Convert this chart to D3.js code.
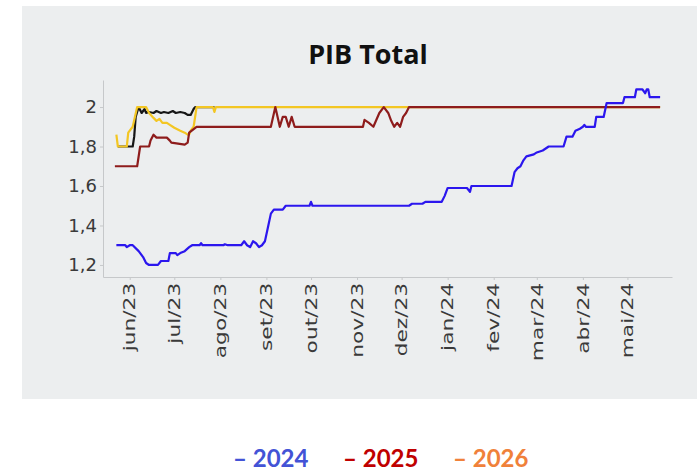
<!DOCTYPE html>
<html>
<head>
<meta charset="utf-8">
<script src="https://cdn.jsdelivr.net/npm/d3@7"></script>
<style>
  body { margin: 0; background: #fff; }
  svg { display: block; }
</style>
</head>
<body>
<svg id="chart"></svg>
<script>
// meses em portugues para os ticks
const meses = ["jan","fev","mar","abr","mai","jun","jul","ago","set","out","nov","dez"];
const yTicks = [1.2, 1.4, 1.6, 1.8, 2.0];

// PIB 2024
const datas2024 = ["2023-05-23","2023-05-29","2023-05-30","2023-06-01","2023-06-03","2023-06-07","2023-06-10","2023-06-12","2023-06-14","2023-06-20",
  "2023-06-22","2023-06-27","2023-06-28","2023-07-02","2023-07-03","2023-07-05","2023-07-08","2023-07-11","2023-07-13","2023-07-18",
  "2023-07-19","2023-07-20","2023-08-03","2023-08-04","2023-08-06","2023-08-15","2023-08-17","2023-08-19","2023-08-21","2023-08-23",
  "2023-08-25","2023-08-27","2023-08-29","2023-08-31","2023-09-02","2023-09-04","2023-09-06","2023-09-12","2023-09-14","2023-09-30",
  "2023-10-01","2023-10-02","2023-12-06","2023-12-08","2023-12-15","2023-12-17","2023-12-28","2023-12-30","2024-01-01","2024-01-14",
  "2024-01-16","2024-01-17","2024-02-13","2024-02-15","2024-02-17","2024-02-19","2024-02-21","2024-02-23","2024-02-28","2024-03-01",
  "2024-03-05","2024-03-09","2024-03-19","2024-03-21","2024-03-25","2024-03-27","2024-03-30","2024-04-01","2024-04-02","2024-04-03",
  "2024-04-09","2024-04-10","2024-04-15","2024-04-17","2024-04-28","2024-04-29","2024-05-06","2024-05-07","2024-05-11","2024-05-13",
  "2024-05-14","2024-05-15","2024-05-16","2024-05-23"];
const pib2024 = [1.30,1.30,1.29,1.30,1.30,1.27,1.24,1.21,1.20,1.20,
  1.22,1.22,1.26,1.26,1.25,1.26,1.27,1.29,1.30,1.30,
  1.31,1.30,1.30,1.305,1.30,1.30,1.32,1.30,1.29,1.32,
  1.31,1.29,1.30,1.32,1.39,1.46,1.48,1.48,1.50,1.50,
  1.52,1.50,1.50,1.51,1.51,1.52,1.52,1.55,1.59,1.59,
  1.57,1.60,1.60,1.67,1.69,1.70,1.73,1.75,1.76,1.77,
  1.78,1.80,1.80,1.85,1.85,1.88,1.89,1.90,1.91,1.90,
  1.90,1.95,1.95,2.02,2.02,2.05,2.05,2.09,2.09,2.07,
  2.09,2.09,2.05,2.05];

// PIB 2025
const datas2025 = ["2023-05-22","2023-06-06","2023-06-08","2023-06-14","2023-06-15","2023-06-17","2023-06-19","2023-06-26","2023-06-28","2023-06-29",
  "2023-07-08","2023-07-10","2023-07-11","2023-07-16","2023-09-04","2023-09-07","2023-09-10","2023-09-12","2023-09-14","2023-09-16",
  "2023-09-18","2023-09-20","2023-11-05","2023-11-06","2023-11-09","2023-11-12","2023-11-16","2023-11-19","2023-11-22","2023-11-24",
  "2023-11-26","2023-11-28","2023-11-30","2023-12-02","2023-12-04","2023-12-06","2024-05-23"];
const pib2025 = [1.70,1.70,1.80,1.80,1.83,1.86,1.845,1.845,1.83,1.82,
  1.81,1.82,1.87,1.90,1.90,2.00,1.90,1.95,1.95,1.90,
  1.95,1.90,1.90,1.935,1.92,1.90,1.97,2.00,1.97,1.93,
  1.90,1.92,1.90,1.95,1.97,2.00,2.00];

// PIB 2026
const datas2026 = ["2023-05-23","2023-05-24","2023-05-30","2023-05-31","2023-06-03","2023-06-06","2023-06-12","2023-06-14","2023-06-17","2023-06-19",
  "2023-06-21","2023-06-23","2023-06-26","2023-06-28","2023-07-01","2023-07-05","2023-07-08","2023-07-10","2023-07-11","2023-07-12",
  "2023-07-14","2023-07-16","2023-07-27","2023-07-28","2023-07-29","2024-05-23"];
const pib2026 = [1.86,1.80,1.80,1.87,1.90,2.00,2.00,1.97,1.945,1.93,
  1.94,1.92,1.92,1.91,1.895,1.88,1.87,1.86,1.86,1.88,
  1.90,2.00,2.00,1.975,2.00,2.00];

// PIB 2027 (linha preta, sem legenda)
const datas2027 = ["2023-05-24","2023-06-03","2023-06-04","2023-06-05","2023-06-07","2023-06-09","2023-06-11","2023-06-12","2023-06-14","2023-06-17",
  "2023-06-19","2023-06-22","2023-06-24","2023-06-27","2023-06-30","2023-07-02","2023-07-05","2023-07-08","2023-07-10","2023-07-12",
  "2023-07-14","2023-07-15","2023-07-28"];
const pib2027 = [1.80,1.80,1.85,1.95,2.00,1.97,1.99,1.97,1.975,1.97,
  1.98,1.97,1.975,1.97,1.98,1.97,1.975,1.97,1.96,1.96,
  1.99,2.00,2.00];

const legendNames = ["2024", "2025", "2026"];
const legendColors = ["#4353d6", "#c00000", "#f0813a"];


class LineChart {

    constructor( config ) {
        this.config = {
            parent: config.parent,
            width: config.width || 697,
            height: config.height || 471
        }
        this.init();
    }

    init() {
        let self = this;
        const parse = d3.timeParse("%Y-%m-%d");
        const zip = (ds, vs) => ds.map((d, i) => ({ date: parse(d), v: vs[i] }));

        // ordem de desenho: preta embaixo, vermelha e azul por cima
        self.series = [
            { name: "2027", color: "#161616", values: zip(datas2027, pib2027) },
            { name: "2026", color: "#f3c623", values: zip(datas2026, pib2026) },
            { name: "2025", color: "#8e1c1c", values: zip(datas2025, pib2025) },
            { name: "2024", color: "#2b16ee", values: zip(datas2024, pib2024) }
        ];

        self.svg = d3.select( self.config.parent )
            .attr('width', self.config.width)
            .attr('height', self.config.height);

        self.x = d3.scaleTime()
            .domain([new Date(2023, 4, 14), new Date(2024, 4, 31)])
            .range([103, 672]);
        self.y = d3.scaleLinear()
            .domain([1.139, 2.137])
            .range([277, 80]);

        self.render();
    }

    render() {
        let self = this;

        // painel cinza
        self.svg.append('rect')
            .attr('x', 22).attr('y', 6)
            .attr('width', 675).attr('height', 393)
            .attr('fill', '#eceeef');

        self.svg.append('text')
            .attr('x', 368).attr('y', 64)
            .attr('text-anchor', 'middle')
            .style('font-family', '"Open Sans", sans-serif')
            .style('font-weight', 700)
            .style('font-size', '27px')
            .attr('fill', '#111')
            .text('PIB Total');

        const xAxis = d3.axisBottom(self.x)
            .tickValues(d3.timeMonth.range(new Date(2023, 5, 1), new Date(2024, 5, 1)))
            .tickSize(3).tickSizeOuter(0)
            .tickFormat(d => meses[d.getMonth()] + "/" + String(d.getFullYear()).slice(2));

        const gx = self.svg.append('g')
            .attr('transform', 'translate(0,277)')
            .call(xAxis);
        gx.selectAll('text')
            .attr('transform', 'rotate(-90) scale(1.45,1)')
            .attr('text-anchor', 'end')
            .attr('x', -4).attr('y', 0).attr('dy', '0.35em')
            .style('font-family', '"DejaVu Sans", sans-serif')
            .style('font-size', '15px')
            .attr('fill', '#3a3a3a');

        const yAxis = d3.axisLeft(self.y)
            .tickValues(yTicks)
            .tickSize(3).tickSizeOuter(0)
            .tickFormat(d => String(d).replace('.', ','));

        const gy = self.svg.append('g')
            .attr('transform', 'translate(103,0)')
            .call(yAxis);
        gy.selectAll('text')
            .style('font-family', '"DejaVu Sans", sans-serif')
            .style('font-size', '18px')
            .attr('fill', '#3a3a3a');

        self.svg.selectAll('.domain, .tick line')
            .attr('stroke', '#c6c8ca');

        const line = d3.line()
            .x(d => self.x(d.date))
            .y(d => self.y(d.v));

        self.svg.append('g')
            .selectAll('path')
            .data(self.series)
            .join('path')
            .attr('d', d => line(d.values))
            .attr('fill', 'none')
            .attr('stroke', d => d.color)
            .attr('stroke-width', 2.2)
            .attr('stroke-linejoin', 'round');

        // legenda fora do painel
        self.svg.append('g')
            .selectAll('text')
            .data(legendNames)
            .join('text')
            .attr('x', (d, i) => 233 + i * 110)
            .attr('y', 467)
            .style('font-family', 'Lato, sans-serif')
            .style('font-weight', 700)
            .style('font-size', '24px')
            .attr('fill', (d, i) => legendColors[i])
            .text(d => '\u2013 ' + d);
    }
}

new LineChart({ parent: '#chart' });
</script>
</body>
</html>
